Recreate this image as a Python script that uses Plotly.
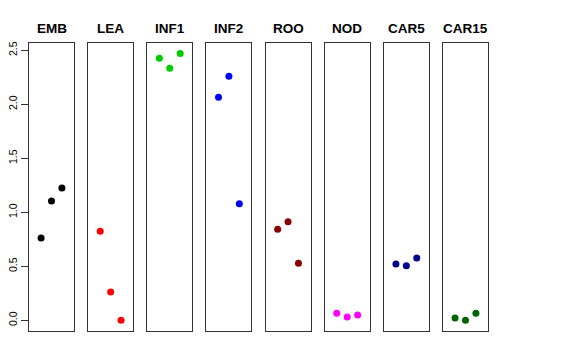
import plotly.graph_objects as go

panels = ["EMB", "LEA", "INF1", "INF2", "ROO", "NOD", "CAR5", "CAR15"]
colors = ["#000000", "#FF0000", "#00CD00", "#0000FF", "#8B0000", "#FF00FF", "#00008B", "#006400"]
reps = [1, 2, 3]
values = {
    "EMB":   [0.762, 1.105, 1.225],
    "LEA":   [0.824, 0.262, 0.0],
    "INF1":  [2.426, 2.333, 2.469],
    "INF2":  [2.065, 2.259, 1.080],
    "ROO":   [0.843, 0.913, 0.528],
    "NOD":   [0.065, 0.031, 0.049],
    "CAR5":  [0.521, 0.506, 0.577],
    "CAR15": [0.021, 0.0, 0.065],
}
ytickvals = [0, 0.5, 1.0, 1.5, 2.0, 2.5]
yticktext = ["0.0", "0.5", "1.0", "1.5", "2.0", "2.5"]

W, H = 576, 360
ml, mr, mt, mb = 29, 88, 43, 29
pw = W - ml - mr
ph = H - mt - mb
step = 59.14
boxw = 45.0
ymin, ymax = -0.099, 2.567

fig = go.Figure()
layout = dict(
    width=W, height=H,
    margin=dict(l=ml, r=mr, t=mt, b=mb, pad=0, autoexpand=False),
    paper_bgcolor="white", plot_bgcolor="white",
    showlegend=False,
    font=dict(family="Liberation Sans, Arial, sans-serif", color="black"),
)
annotations = []
for i, name in enumerate(panels):
    k = "" if i == 0 else str(i + 1)
    left = (i * step) / pw
    right = min((i * step + boxw) / pw, 1.0)
    fig.add_trace(go.Scatter(
        x=reps, y=values[name], mode="markers",
        marker=dict(color=colors[i], size=7),
        xaxis="x" + k, yaxis="y" + k, hoverinfo="x+y",
    ))
    layout["xaxis" + k] = dict(
        domain=[left, right], range=[-0.16, 4.16], anchor="y" + k,
        showline=True, mirror=True, linecolor="#333333", linewidth=1,
        showgrid=False, zeroline=False, showticklabels=False, ticks="",
        automargin=False,
    )
    ya = dict(
        range=[ymin, ymax], anchor="x" + k,
        showline=True, mirror=True, linecolor="#333333", linewidth=1,
        showgrid=False, zeroline=False, automargin=False,
    )
    if i == 0:
        ya.update(
            tickvals=ytickvals, ticktext=yticktext, ticks="outside", ticklen=7,
            tickcolor="#333333", tickangle=-90,
            tickfont=dict(size=10.5, color="black"),
        )
    else:
        ya.update(showticklabels=False, ticks="", matches="y")
    layout["yaxis" + k] = ya
    annotations.append(dict(
        text="<b>" + name + "</b>", xref="x" + k + " domain", x=0.5,
        yref="paper", y=1 + (mt - 29) / ph, xanchor="center", yanchor="middle",
        showarrow=False, font=dict(size=13.5, color="black"),
    ))
layout["annotations"] = annotations
fig.update_layout(**layout)
fig.write_html("out.html", config={"displayModeBar": False},
               post_script="document.body.style.margin='0';")
